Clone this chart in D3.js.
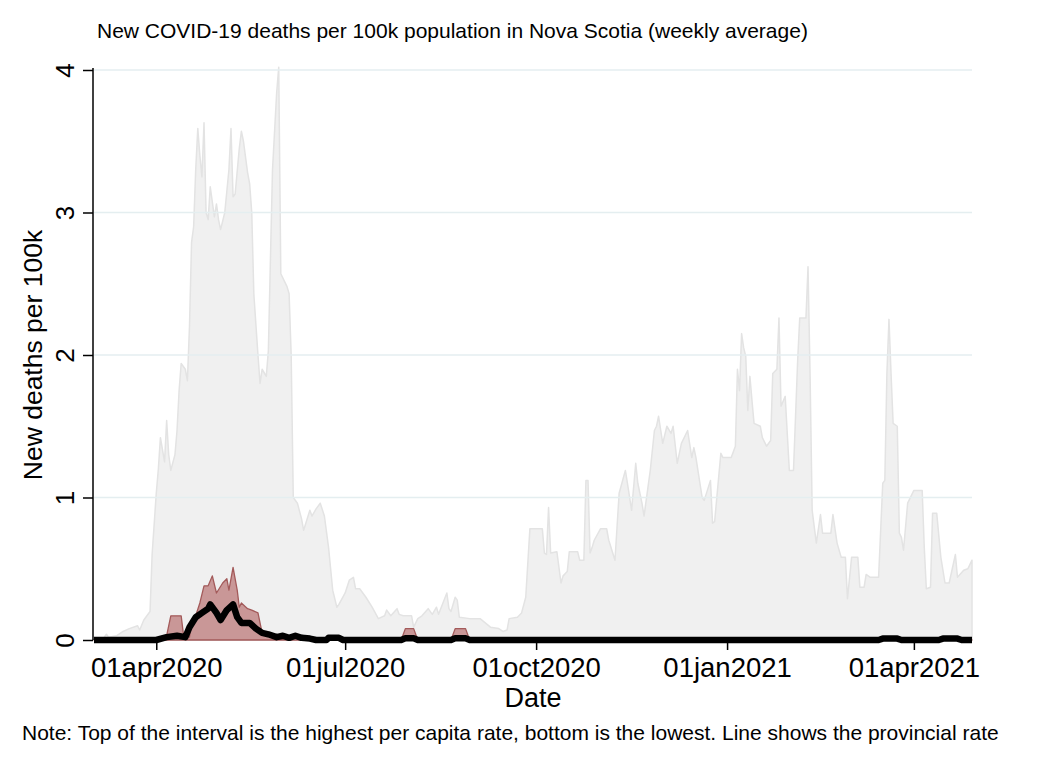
<!DOCTYPE html>
<html><head><meta charset="utf-8">
<script src="https://cdn.jsdelivr.net/npm/d3@7"></script>
<style>
body{margin:0;background:#fff}
text{font-family:"Liberation Sans",Arial,sans-serif;fill:#000}
</style>
</head><body>
<svg id="chart" width="1050" height="764"></svg>
<script>
// ---- data ----
const chartTitle = "New COVID-19 deaths per 100k population in Nova Scotia (weekly average)";
const yTitle = "New deaths per 100k";
const xTitle = "Date";
const noteText = "Note: Top of the interval is the highest per capita rate, bottom is the lowest. Line shows the provincial rate";

const yTicks = [0, 1, 2, 3, 4];
const xTickDates = ["2020-04-01", "2020-07-01", "2020-10-01", "2021-01-01", "2021-04-01"];
const xTickLabels = ["01apr2020", "01jul2020", "01oct2020", "01jan2021", "01apr2021"];
const dateRange = ["2020-03-02", "2021-04-29"];

// grey background area (upper envelope)
const greyArea = [["2020-03-02",0],["2020-03-06",0],["2020-03-08",0.04],["2020-03-09",0.02],["2020-03-13",0.03],["2020-03-16",0.06],["2020-03-19",0.08],["2020-03-23",0.1],["2020-03-24",0.07],["2020-03-26",0.14],["2020-03-29",0.2],["2020-03-30",0.6],["2020-04-01",1.03],["2020-04-02",1.2],["2020-04-03",1.42],["2020-04-05",1.25],["2020-04-06",1.54],["2020-04-07",1.3],["2020-04-08",1.19],["2020-04-10",1.3],["2020-04-11",1.47],["2020-04-12",1.75],["2020-04-13",1.94],["2020-04-15",1.9],["2020-04-16",1.82],["2020-04-17",2.2],["2020-04-18",2.79],["2020-04-19",2.9],["2020-04-20",3.3],["2020-04-21",3.59],["2020-04-22",3.4],["2020-04-23",3.25],["2020-04-24",3.63],["2020-04-25",3.0],["2020-04-26",2.95],["2020-04-27",3.18],["2020-04-29",2.97],["2020-04-30",3.06],["2020-05-01",2.95],["2020-05-02",2.88],["2020-05-04",3.0],["2020-05-06",3.3],["2020-05-07",3.59],["2020-05-08",3.11],["2020-05-09",3.13],["2020-05-11",3.45],["2020-05-12",3.57],["2020-05-13",3.5],["2020-05-15",3.28],["2020-05-16",3.2],["2020-05-17",3.0],["2020-05-18",2.43],["2020-05-20",2.0],["2020-05-21",1.8],["2020-05-22",1.9],["2020-05-24",1.85],["2020-05-25",2.03],["2020-05-26",2.67],["2020-05-27",3.3],["2020-05-29",3.84],["2020-05-30",4.02],["2020-05-31",2.57],["2020-06-03",2.48],["2020-06-04",2.43],["2020-06-05",2.0],["2020-06-06",1.0],["2020-06-08",0.96],["2020-06-10",0.85],["2020-06-11",0.77],["2020-06-14",0.91],["2020-06-15",0.87],["2020-06-17",0.92],["2020-06-19",0.96],["2020-06-21",0.87],["2020-06-23",0.65],["2020-06-25",0.35],["2020-06-27",0.23],["2020-06-28",0.25],["2020-07-01",0.33],["2020-07-03",0.42],["2020-07-05",0.44],["2020-07-06",0.36],["2020-07-08",0.36],["2020-07-11",0.3],["2020-07-14",0.23],["2020-07-17",0.15],["2020-07-20",0.17],["2020-07-21",0.21],["2020-07-23",0.17],["2020-07-26",0.22],["2020-07-27",0.18],["2020-07-29",0.17],["2020-08-02",0.17],["2020-08-03",0.09],["2020-08-05",0.15],["2020-08-07",0.17],["2020-08-10",0.22],["2020-08-12",0.18],["2020-08-14",0.23],["2020-08-15",0.18],["2020-08-19",0.33],["2020-08-20",0.22],["2020-08-21",0.2],["2020-08-23",0.3],["2020-08-24",0.28],["2020-08-25",0.16],["2020-08-30",0.15],["2020-09-04",0.15],["2020-09-09",0.09],["2020-09-13",0.08],["2020-09-15",0.06],["2020-09-17",0.07],["2020-09-18",0.15],["2020-09-22",0.16],["2020-09-24",0.19],["2020-09-26",0.3],["2020-09-28",0.78],["2020-10-04",0.78],["2020-10-05",0.61],["2020-10-06",0.6],["2020-10-07",0.93],["2020-10-08",0.61],["2020-10-11",0.62],["2020-10-13",0.4],["2020-10-14",0.45],["2020-10-16",0.48],["2020-10-17",0.62],["2020-10-21",0.62],["2020-10-22",0.56],["2020-10-24",0.56],["2020-10-25",1.12],["2020-10-26",1.12],["2020-10-27",0.61],["2020-10-28",0.65],["2020-10-29",0.7],["2020-11-01",0.78],["2020-11-04",0.78],["2020-11-05",0.7],["2020-11-08",0.56],["2020-11-10",1.03],["2020-11-13",1.19],["2020-11-14",1.1],["2020-11-16",0.91],["2020-11-18",1.24],["2020-11-19",1.1],["2020-11-21",0.96],["2020-11-22",0.87],["2020-11-25",1.19],["2020-11-27",1.47],["2020-11-28",1.5],["2020-11-29",1.57],["2020-12-01",1.38],["2020-12-03",1.5],["2020-12-05",1.45],["2020-12-06",1.5],["2020-12-08",1.24],["2020-12-10",1.38],["2020-12-13",1.47],["2020-12-15",1.28],["2020-12-16",1.35],["2020-12-17",1.28],["2020-12-20",1.0],["2020-12-21",0.98],["2020-12-24",1.12],["2020-12-25",0.82],["2020-12-26",0.83],["2020-12-29",1.31],["2020-12-30",1.28],["2021-01-03",1.28],["2021-01-05",1.36],["2021-01-06",1.9],["2021-01-07",1.75],["2021-01-08",2.15],["2021-01-09",2.05],["2021-01-10",1.99],["2021-01-11",1.61],["2021-01-12",1.85],["2021-01-13",1.68],["2021-01-14",1.52],["2021-01-17",1.5],["2021-01-18",1.42],["2021-01-20",1.36],["2021-01-22",1.4],["2021-01-23",1.87],["2021-01-25",1.9],["2021-01-26",2.26],["2021-01-27",1.64],["2021-01-29",1.71],["2021-01-31",1.19],["2021-02-02",1.19],["2021-02-04",1.96],["2021-02-05",2.26],["2021-02-08",2.26],["2021-02-09",2.62],["2021-02-10",1.85],["2021-02-11",0.91],["2021-02-13",0.68],["2021-02-15",0.88],["2021-02-16",0.75],["2021-02-20",0.75],["2021-02-21",0.88],["2021-02-23",0.68],["2021-02-25",0.58],["2021-02-27",0.58],["2021-02-28",0.29],["2021-03-02",0.58],["2021-03-05",0.58],["2021-03-06",0.37],["2021-03-08",0.37],["2021-03-09",0.46],["2021-03-11",0.44],["2021-03-15",0.44],["2021-03-17",1.1],["2021-03-18",1.12],["2021-03-19",1.87],["2021-03-20",2.25],["2021-03-21",1.87],["2021-03-22",1.52],["2021-03-24",1.5],["2021-03-25",0.75],["2021-03-26",0.72],["2021-03-27",0.63],["2021-03-29",0.96],["2021-04-01",1.05],["2021-04-05",1.05],["2021-04-06",0.65],["2021-04-07",0.36],["2021-04-09",0.37],["2021-04-10",0.89],["2021-04-12",0.89],["2021-04-14",0.58],["2021-04-16",0.4],["2021-04-18",0.4],["2021-04-21",0.6],["2021-04-22",0.44],["2021-04-25",0.49],["2021-04-27",0.5],["2021-04-29",0.56]];

// interval: highest per-capita rate (top); lowest is zero throughout
const intervalHigh = [["2020-03-02",0],["2020-04-05",0],["2020-04-06",0.03],["2020-04-08",0.17],["2020-04-13",0.17],["2020-04-14",0.05],["2020-04-17",0.02],["2020-04-18",0.14],["2020-04-20",0.17],["2020-04-22",0.26],["2020-04-24",0.38],["2020-04-26",0.38],["2020-04-28",0.45],["2020-04-30",0.33],["2020-05-03",0.4],["2020-05-05",0.43],["2020-05-06",0.35],["2020-05-08",0.51],["2020-05-10",0.35],["2020-05-11",0.23],["2020-05-12",0.26],["2020-05-15",0.22],["2020-05-17",0.21],["2020-05-20",0.19],["2020-05-22",0.05],["2020-05-23",0.04],["2020-05-25",0.03],["2020-05-29",0.015],["2020-06-02",0],["2020-07-28",0],["2020-07-30",0.08],["2020-08-03",0.08],["2020-08-05",0],["2020-08-21",0],["2020-08-23",0.08],["2020-08-28",0.08],["2020-08-30",0],["2021-04-29",0]];
const intervalLow = [["2020-03-02",0],["2021-04-29",0]];

// provincial rate
const provincial = [["2020-03-02",0],["2020-04-01",0],["2020-04-06",0.02],["2020-04-11",0.03],["2020-04-15",0.02],["2020-04-17",0.09],["2020-04-20",0.16],["2020-04-23",0.19],["2020-04-26",0.22],["2020-04-27",0.25],["2020-04-30",0.19],["2020-05-02",0.14],["2020-05-05",0.21],["2020-05-08",0.25],["2020-05-10",0.16],["2020-05-12",0.12],["2020-05-16",0.12],["2020-05-19",0.08],["2020-05-22",0.05],["2020-05-25",0.04],["2020-05-29",0.02],["2020-06-01",0.03],["2020-06-04",0.015],["2020-06-07",0.03],["2020-06-10",0.015],["2020-06-14",0.01],["2020-06-17",0],["2020-06-22",0],["2020-06-23",0.015],["2020-06-28",0.015],["2020-06-30",0],["2020-07-28",0],["2020-07-30",0.012],["2020-08-03",0.012],["2020-08-05",0],["2020-08-21",0],["2020-08-23",0.012],["2020-08-28",0.012],["2020-08-30",0],["2021-03-15",0],["2021-03-17",0.01],["2021-03-24",0.01],["2021-03-26",0],["2021-04-13",0],["2021-04-15",0.01],["2021-04-22",0.01],["2021-04-24",0],["2021-04-29",0]];

// ---- drawing ----
const parse = d3.utcParse("%Y-%m-%d");
const svg = d3.select("#chart");
const W = 1050, H = 764;
svg.append("rect").attr("width", W).attr("height", H).attr("fill", "#fff");

const x = d3.scaleUtc().domain(dateRange.map(parse)).range([94, 972]);
const y = d3.scaleLinear().domain([0, 4]).range([640, 70]);

const toPts = arr => arr.map(d => ({date: parse(d[0]), v: d[1]}));

// grey area
const grey = toPts(greyArea);
svg.append("path").datum(grey)
  .attr("d", d3.area().x(d => x(d.date)).y0(y(0)).y1(d => y(d.v)))
  .attr("fill", "#f0f0f0").attr("stroke", "#e3e3e3").attr("stroke-width", 1.5)
  .attr("stroke-linejoin", "round");

// gridlines
svg.append("g").selectAll("line").data(yTicks.filter(t => t > 0)).join("line")
  .attr("x1", 94).attr("x2", 972)
  .attr("y1", d => y(d)).attr("y2", d => y(d))
  .attr("stroke", "#e4eef0").attr("stroke-width", 1.5);

// interval band
const hi = toPts(intervalHigh);
const low = toPts(intervalLow);
const lowAt = date => {
  for (let i = 1; i < low.length; i++) {
    if (date <= low[i].date) {
      const a = low[i-1], b = low[i];
      const t = (date - a.date) / (b.date - a.date);
      return a.v + t * (b.v - a.v);
    }
  }
  return low[low.length-1].v;
};
svg.append("path").datum(hi)
  .attr("d", d3.area().x(d => x(d.date)).y0(d => y(lowAt(d.date))).y1(d => y(d.v)))
  .attr("fill", "#c99797").attr("stroke", "#a35a5a").attr("stroke-width", 1.3)
  .attr("stroke-linejoin", "round");

// axes
const yAxis = svg.append("g").attr("transform", "translate(93,0)")
  .call(d3.axisLeft(y).tickValues(yTicks).tickSize(10).tickPadding(0).tickFormat(d3.format("d")));
yAxis.select(".domain").attr("stroke", "#000").attr("stroke-width", 1.5).attr("d", `M0,${y(4)-2}V${y(0)}`);
yAxis.selectAll(".tick line").attr("stroke", "#000").attr("stroke-width", 1.5);
yAxis.selectAll(".tick text")
  .attr("font-size", 26).attr("font-family", "Liberation Sans, Arial, sans-serif")
  .attr("text-anchor", "middle").attr("x", 0).attr("y", 0).attr("dy", "0")
  .attr("transform", "translate(-19,0) rotate(-90)");

const xAxis = svg.append("g").attr("transform", "translate(0,640)")
  .call(d3.axisBottom(x).tickValues(xTickDates.map(parse)).tickSize(10).tickPadding(7)
    .tickFormat((d, i) => xTickLabels[i]));
xAxis.select(".domain").remove();
xAxis.selectAll(".tick line").attr("stroke", "#000").attr("stroke-width", 1.5);
xAxis.selectAll(".tick text").attr("font-size", 27.5).attr("font-family", "Liberation Sans, Arial, sans-serif");

// provincial line
svg.append("path").datum(toPts(provincial))
  .attr("d", d3.line().x(d => x(d.date)).y(d => y(d.v)))
  .attr("fill", "none").attr("stroke", "#000").attr("stroke-width", 6.5)
  .attr("stroke-linejoin", "round");

// titles
svg.append("text").attr("x", 97).attr("y", 38).attr("font-size", 21).text(chartTitle);
svg.append("text").attr("transform", `translate(42,${y(2)}) rotate(-90)`)
  .attr("text-anchor", "middle").attr("font-size", 26.5).text(yTitle);
svg.append("text").attr("x", 533).attr("y", 707).attr("text-anchor", "middle").attr("font-size", 27).text(xTitle);
svg.append("text").attr("x", 22).attr("y", 740).attr("font-size", 21).text(noteText);
</script>
</body></html>
